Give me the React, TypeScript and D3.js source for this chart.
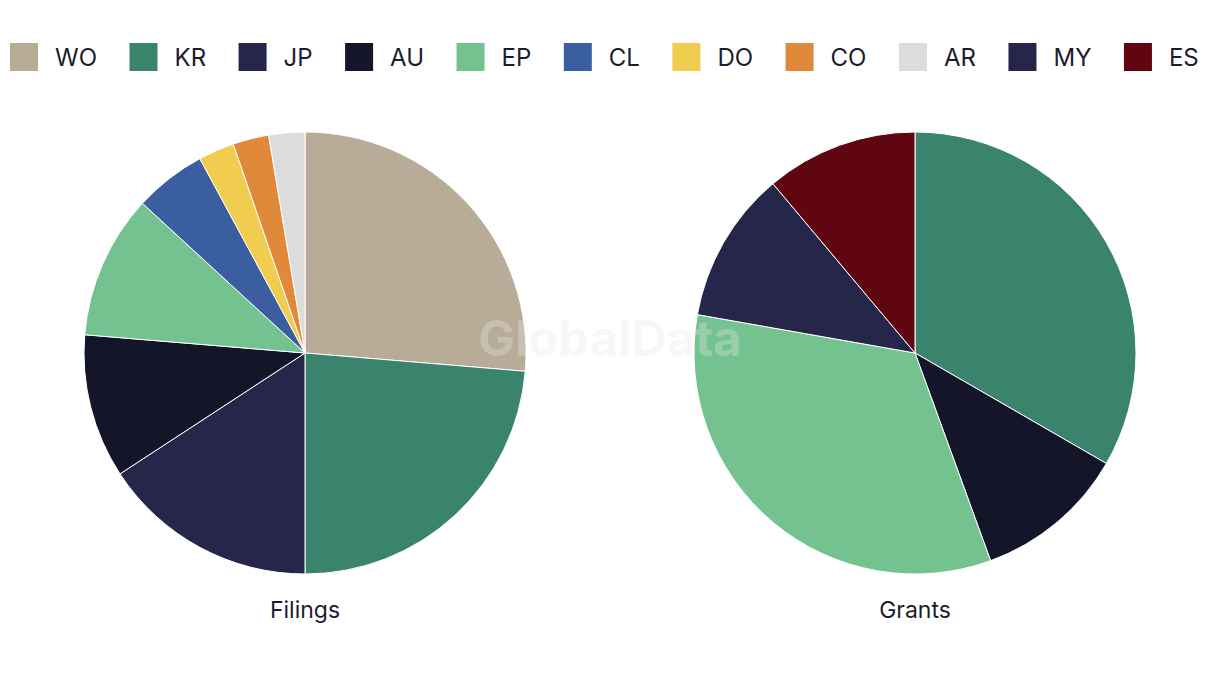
import React from "react";
import * as d3 from "d3";

const legendKeys = ["WO", "KR", "JP", "AU", "EP", "CL", "DO", "CO", "AR", "MY", "ES"];
const legendColors = ["#b8ab97", "#3a836c", "#26264a", "#15152a", "#73c290", "#3a5ea0", "#f0cd4e", "#e0893a", "#dcdcdc", "#26264a", "#5f0610"];

const filingsKeys = ["WO", "KR", "JP", "AU", "EP", "CL", "DO", "CO", "AR"];
const filingsValues = [10, 9, 6, 4, 4, 2, 1, 1, 1];

const grantsKeys = ["KR", "AU", "EP", "MY", "ES"];
const grantsValues = [3, 1, 3, 1, 1];

const W = 1220;
const H = 686;
const FONT = "Inter, 'Noto Sans', sans-serif";
const TEXT = "#1c1c30";

function measure(t: string, size: number) {
  const c = document.createElement("canvas").getContext("2d")!;
  c.font = `${size}px Inter`;
  return c.measureText(t).width;
}

function Pie({ keys, values, cx, cy, r, title }: { keys: string[]; values: number[]; cx: number; cy: number; r: number; title: string }) {
  const color = d3.scaleOrdinal<string, string>().domain(legendKeys).range(legendColors);
  const data = keys.map((k, i) => ({ k, v: values[i] }));
  const arcs = d3.pie<{ k: string; v: number }>().value((d) => d.v).sort(null)(data);
  const arc = d3.arc<d3.PieArcDatum<{ k: string; v: number }>>().innerRadius(0).outerRadius(r);
  return (
    <g transform={`translate(${cx},${cy})`}>
      {arcs.map((a) => (
        <path key={a.data.k} d={arc(a) || ""} fill={color(a.data.k)} stroke="#fff" strokeWidth={1} />
      ))}
      <text x={0} y={r + 44} textAnchor="middle" fontSize={23} fill={TEXT} fontFamily={FONT}>
        {title}
      </text>
    </g>
  );
}

export default function App() {
  const fs = 24;
  let x = 10;
  const items = legendKeys.map((k, i) => {
    const item = { k, c: legendColors[i], x };
    x += 28 + 17 + measure(k, fs) + 32.5;
    return item;
  });
  return (
    <svg width={W} height={H} style={{ position: "absolute", left: 0, top: 0, background: "#fff" }}>
      {items.map((it) => (
        <g key={it.k} transform={`translate(${it.x},43)`}>
          <rect width={28} height={28} fill={it.c} />
          <text x={45} y={14} dy="0.36em" fontSize={fs} fill={TEXT} fontFamily={FONT}>
            {it.k}
          </text>
        </g>
      ))}
      <Pie keys={filingsKeys} values={filingsValues} cx={305} cy={353} r={221} title="Filings" />
      <Pie keys={grantsKeys} values={grantsValues} cx={915} cy={353} r={221} title="Grants" />
      <text x={610} y={343} textAnchor="middle" dominantBaseline="middle" fontSize={49} fontWeight={700} fill="#e8e8e8" opacity={0.33} fontFamily={FONT}>
        GlobalData
      </text>
    </svg>
  );
}
